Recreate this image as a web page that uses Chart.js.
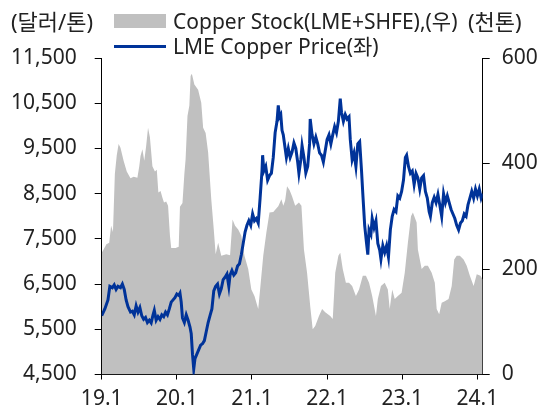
<!DOCTYPE html>
<html>
<head>
<meta charset="utf-8">
<script src="https://cdn.jsdelivr.net/npm/chart.js@4.4.1/dist/chart.umd.min.js"></script>
<style>
    body { margin: 0; background: #fff; }
    #wrap { position: relative; width: 545px; height: 410px; font-family: "Noto Sans", "Noto Sans CJK KR", sans-serif; color: #222; }
    #copperChart { position: absolute; left: 0; top: 0; }
    .lbl { position: absolute; font-size: 21px; line-height: 26px; white-space: nowrap; }
    .unit { font-size: 22px; }
    .box { position: absolute; }
</style>
</head>
<body>
<div id="wrap">
    <canvas id="copperChart" width="545" height="410"></canvas>
    <div class="lbl unit" style="left:11px; top:8px;">(달러/톤)</div>
    <div class="lbl unit" style="left:468px; top:8px;">(천톤)</div>
    <div class="box" style="left:114px; top:14px; width:52px; height:14px; background:#c0c0c0;"></div>
    <div class="lbl" style="left:173px; top:8px;">Copper Stock(LME+SHFE),(우)</div>
    <div class="box" style="left:114px; top:45px; width:52px; height:3px; background:#003399;"></div>
    <div class="lbl" style="left:173px; top:33px;">LME Copper Price(좌)</div>
</div>
<script>
"use strict";

// x values are months since Jan 2019 (0 = 19.1, 12 = 20.1 ...)
const priceMonth = [
    0, 0.5, 1.0, 1.3, 1.7, 2.0, 2.3, 2.6, 3.0, 3.3, 3.6, 3.9, 4.2, 4.6, 4.9, 5.2, 5.5, 5.8, 6.1, 6.4,
    6.7, 7.0, 7.3, 7.6, 7.9, 8.2, 8.4, 8.7, 9.0, 9.3, 9.6, 9.9, 10.2, 10.5, 10.8, 11.1, 11.4, 11.7, 12.0, 12.3,
    12.5, 12.7, 12.9, 13.2, 13.5, 13.8, 14.1, 14.3, 14.5, 14.7, 14.9, 15.2, 15.5, 15.8, 16.1, 16.4, 16.7, 17.0, 17.3, 17.6,
    17.9, 18.2, 18.5, 18.8, 19.1, 19.4, 19.7, 20.0, 20.3, 20.5, 20.8, 21.1, 21.4, 21.7, 22.0, 22.3, 22.6, 22.9, 23.2, 23.5,
    23.8, 24.1, 24.4, 24.7, 25.0, 25.3, 25.6, 25.7, 25.9, 26.2, 26.5, 26.8, 27.1, 27.4, 27.7, 28.0, 28.2, 28.4, 28.6, 28.8,
    29.0, 29.3, 29.5, 29.8, 30.1, 30.4, 30.7, 31.0, 31.3, 31.5, 31.8, 32.0, 32.3, 32.6, 32.9, 33.2, 33.3, 33.6, 33.9, 34.2,
    34.5, 34.8, 35.1, 35.4, 35.7, 36.0, 36.3, 36.6, 36.9, 37.2, 37.5, 37.8, 38.1, 38.3, 38.6, 38.9, 39.2, 39.5, 39.7, 40.0,
    40.3, 40.6, 40.9, 41.2, 41.5, 41.7, 42.0, 42.3, 42.5, 42.7, 43.0, 43.2, 43.5, 43.8, 44.1, 44.4, 44.6, 44.9, 45.2, 45.5,
    45.8, 46.1, 46.4, 46.7, 47.0, 47.3, 47.6, 47.9, 48.2, 48.5, 48.7, 49.0, 49.3, 49.6, 49.9, 50.2, 50.5, 50.8, 51.1, 51.4,
    51.7, 52.0, 52.3, 52.5, 52.8, 53.1, 53.4, 53.7, 54.0, 54.3, 54.6, 54.9, 55.2, 55.5, 55.8, 56.1, 56.4, 56.7, 57.0, 57.3,
    57.6, 57.9, 58.2, 58.5, 58.8, 59.1, 59.4, 59.7, 60.0, 60.3, 60.6, 60.85
];
const priceValue = [
    5800, 5950, 6150, 6450, 6420, 6480, 6380, 6450, 6420, 6500, 6380, 6150, 6000, 5880, 5900, 5820, 6020, 5880, 5980, 5800,
    5720, 5760, 5650, 5700, 5640, 5820, 5920, 5700, 5780, 5720, 5820, 5780, 5880, 5820, 5950, 6100, 6150, 6200, 6280, 6250,
    6300, 6100, 5750, 5650, 5820, 5700, 5550, 5400, 4950, 4620, 4850, 4950, 5050, 5150, 5180, 5250, 5450, 5650, 5800, 5950,
    6350, 6450, 6500, 6280, 6400, 6600, 6650, 6720, 6450, 6700, 6800, 6700, 6750, 6900, 6950, 7150, 7400, 7650, 7800, 7900,
    7800, 8050, 7900, 7950, 7850, 8400, 9000, 9350, 9000, 9100, 8800, 8900, 8950, 9300, 9850, 10100, 10450, 10200, 10250, 9900,
    9800, 9500, 9300, 9500, 9300, 9420, 9620, 9500, 9200, 8950, 9250, 9560, 9300, 8960, 9100, 9600, 10150, 9800, 9600, 9750,
    9600, 9400, 9350, 9200, 9450, 9700, 9800, 9600, 9800, 9980, 9850, 10100, 10600, 10300, 10100, 10250, 10150, 10200, 9700, 9250,
    9400, 9100, 9600, 9650, 9000, 8500, 7800, 7400, 7150, 7700, 7600, 7950, 7750, 7900, 7400, 7250, 7050, 7350, 7200, 7350,
    7100, 7700, 8000, 8150, 8100, 8450, 8400, 8550, 8800, 9300, 9350, 9100, 8950, 9000, 8700, 8950, 8850, 8600, 8850, 8900,
    8550, 8400, 8100, 8000, 8300, 8420, 8300, 8480, 8250, 8000, 8500, 8300, 8450, 8300, 8150, 8050, 7950, 7800, 7700, 7850,
    7900, 8050, 8000, 8250, 8400, 8550, 8400, 8600, 8450, 8600, 8400, 8500
];

const stockMonth = [
    0, 0.3, 0.75, 1.2, 1.5, 1.8, 2.1, 2.4, 2.7, 3.0, 3.5, 4.0, 4.6, 5.1, 5.7, 6.0, 6.2, 6.5, 6.8, 7.1,
    7.4, 7.7, 8.1, 8.5, 8.8, 9.05, 9.4, 9.7, 9.95, 10.3, 10.6, 10.9, 11.1, 11.8, 12.3, 12.5, 12.9, 13.2, 13.4, 13.7,
    14.0, 14.2, 14.4, 14.8, 15.4, 15.9, 16.2, 16.6, 17.0, 17.5, 17.9, 18.2, 18.6, 19.1, 19.9, 20.5, 20.9, 21.3, 21.8, 22.3,
    22.8, 23.4, 23.9, 24.4, 25.0, 25.3, 25.8, 26.3, 26.8, 27.4, 28.2, 28.7, 29.0, 29.3, 29.6, 30.0, 30.4, 30.9, 31.5, 31.9,
    32.3, 32.8, 33.3, 33.7, 34.1, 34.7, 35.2, 35.7, 36.5, 36.9, 37.3, 37.8, 38.1, 38.5, 39.0, 39.5, 40.0, 40.6, 41.1, 41.7,
    42.2, 42.7, 43.2, 43.8, 44.1, 44.6, 45.2, 45.7, 46.0, 46.4, 46.8, 47.3, 47.9, 48.4, 48.9, 49.4, 49.7, 50.3, 50.5, 51.1,
    51.6, 52.1, 52.7, 53.2, 53.5, 53.9, 54.3, 54.8, 55.4, 55.9, 56.3, 56.7, 57.2, 57.8, 58.3, 58.8, 59.4, 59.9, 60.5, 60.85
];
const stockValue = [
    231, 237, 247, 250, 282, 270, 380, 415, 437, 430, 405, 385, 372, 375, 373, 395, 414, 427, 405, 433,
    468, 450, 395, 385, 388, 345, 348, 335, 326, 328, 320, 263, 240, 240, 242, 318, 325, 380, 408, 490,
    510, 566, 570, 550, 540, 515, 468, 458, 421, 332, 275, 228, 250, 225, 228, 226, 294, 282, 275, 263,
    225, 200, 161, 149, 124, 161, 225, 269, 307, 308, 319, 332, 320, 330, 357, 350, 338, 320, 326, 320,
    237, 193, 130, 86, 92, 111, 124, 118, 111, 105, 193, 225, 231, 200, 174, 174, 168, 149, 161, 187,
    187, 174, 149, 111, 143, 168, 174, 161, 124, 161, 143, 149, 155, 193, 250, 300, 307, 288, 237, 200,
    206, 206, 193, 174, 124, 114, 136, 139, 143, 168, 218, 225, 225, 218, 206, 187, 168, 190, 187, 180
];

const yearTicks = [0, 12, 24, 36, 48, 60];
const yearLabels = ['19.1', '20.1', '21.1', '22.1', '23.1', '24.1'];

function toPoints(xs, ys) {
    return xs.map(function(x, i) { return { x: x, y: ys[i] }; });
}

const tickFont = { family: '"Noto Sans", "Noto Sans CJK KR", sans-serif', size: 21 };
const inkColor = '#222';

const ctx = document.getElementById('copperChart').getContext('2d');
const copperChart = new Chart(ctx, {
    type: 'line',
    data: {
        datasets: [
            {
                label: 'LME Copper Price(좌)',
                data: toPoints(priceMonth, priceValue),
                yAxisID: 'y',
                borderColor: '#003399',
                borderWidth: 3,
                pointRadius: 0,
                fill: false,
                tension: 0
            },
            {
                label: 'Copper Stock(LME+SHFE),(우)',
                data: toPoints(stockMonth, stockValue),
                yAxisID: 'y2',
                borderColor: '#c0c0c0',
                backgroundColor: '#c0c0c0',
                borderWidth: 0,
                pointRadius: 0,
                fill: 'origin',
                tension: 0
            }
        ]
    },
    options: {
        responsive: false,
        animation: false,
        layout: { padding: { top: 58, left: 0, right: 0, bottom: 0 } },
        plugins: {
            legend: { display: false },
            tooltip: { enabled: false }
        },
        scales: {
            x: {
                type: 'linear',
                min: 0,
                max: 60.85,
                afterBuildTicks: function(scale) {
                    scale.ticks = yearTicks.map(function(v) { return { value: v }; });
                },
                afterFit: function(scale) { scale.height = 35.5; },
                ticks: {
                    autoSkip: false,
                    maxRotation: 0,
                    padding: 7,
                    font: tickFont,
                    color: inkColor,
                    callback: function(value, index) { return yearLabels[index]; }
                },
                grid: { drawOnChartArea: false, tickLength: 5, color: '#000' },
                border: { color: '#000', width: 1 }
            },
            y: {
                position: 'left',
                min: 4500,
                max: 11500,
                afterFit: function(scale) { scale.width = 101.7; },
                ticks: {
                    stepSize: 1000,
                    padding: 18,
                    font: tickFont,
                    color: inkColor,
                    callback: function(value) { return value.toLocaleString('en-US'); }
                },
                grid: { drawOnChartArea: false, tickLength: 7, color: '#000' },
                border: { color: '#000', width: 1 }
            },
            y2: {
                position: 'right',
                min: 0,
                max: 600,
                afterFit: function(scale) { scale.width = 62.3; },
                ticks: {
                    stepSize: 200,
                    padding: 12,
                    font: tickFont,
                    color: inkColor
                },
                grid: { drawOnChartArea: false, tickLength: 7, color: '#000' },
                border: { color: '#000', width: 1 }
            }
        }
    }
});
</script>
</body>
</html>
